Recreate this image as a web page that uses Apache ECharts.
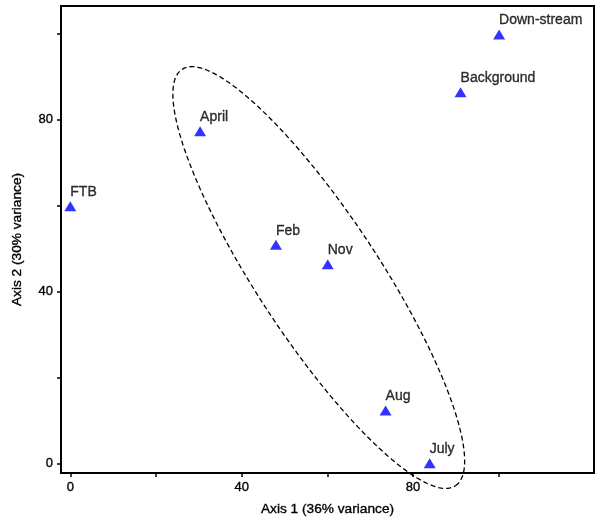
<!DOCTYPE html>
<html>
<head>
<meta charset="utf-8">
<script src="https://cdn.jsdelivr.net/npm/echarts@6/dist/echarts.min.js"></script>
<style>
html,body{margin:0;padding:0;background:#fff;}
#chart{width:600px;height:522px;}
</style>
</head>
<body>
<div id="chart"></div>
<script>
// Data
var siteNames = ["FTB", "April", "Feb", "Nov", "Aug", "July", "Background", "Down-stream"];
var axis1Values = [0, 30.3, 48.0, 60.1, 73.6, 83.9, 91.1, 100.1];
var axis2Values = [59.8, 77.2, 50.8, 46.3, 12.3, 0, 86.3, 99.7];
var tickValues = [0, 20, 40, 60, 80, 100];
var tickLabelValues = [0, 40, 80];
// Ellipse annotation (data units): center, semi-axes, rotation (deg)
var ellipseCenter = [58.0, 43.2];
var ellipseAxes = [58.0, 14.2];
var ellipseAngle = -56.6;

var points = siteNames.map(function (n, i) {
  return { name: n, value: [axis1Values[i], axis2Values[i]] };
});

var ellipsePts = [];
var th = ellipseAngle * Math.PI / 180;
for (var k = 0; k <= 200; k++) {
  var t = k / 200 * 2 * Math.PI;
  var ex = ellipseAxes[0] * Math.cos(t), ey = ellipseAxes[1] * Math.sin(t);
  ellipsePts.push([
    ellipseCenter[0] + ex * Math.cos(th) - ey * Math.sin(th),
    ellipseCenter[1] + ex * Math.sin(th) + ey * Math.cos(th)
  ]);
}

var font = "Liberation Sans, Arial, sans-serif";
var txt = { fontFamily: font, color: '#000', textBorderColor: '#000', textBorderWidth: 0.35 };
var chart = echarts.init(document.getElementById('chart'), null, { renderer: 'canvas' });
chart.setOption({
  animation: false,
  backgroundColor: '#fff',
  grid: { left: 61, top: 6, right: 6, bottom: 49, show: true, borderColor: '#000', borderWidth: 2, containLabel: false },
  xAxis: {
    type: 'value', min: -2.17, max: 122.25,
    name: 'Axis 1 (36% variance)', nameLocation: 'middle', nameGap: 29,
    nameTextStyle: Object.assign({ fontSize: 13.7 }, txt),
    splitLine: { show: false },
    axisLine: { show: true, onZero: false, lineStyle: { color: '#000', width: 2 } },
    axisTick: { show: true, inside: false, length: 4, customValues: tickValues, lineStyle: { color: '#000', width: 1.5 } },
    axisLabel: Object.assign({ customValues: tickLabelValues, fontSize: 13, margin: 8 }, txt)
  },
  yAxis: {
    type: 'value', min: -2.26, max: 106.35,
    name: 'Axis 2 (30% variance)', nameLocation: 'middle', nameGap: 37, nameRotate: 90,
    nameTextStyle: Object.assign({ fontSize: 13.7 }, txt),
    splitLine: { show: false },
    axisLine: { show: true, onZero: false, lineStyle: { color: '#000', width: 2 } },
    axisTick: { show: true, inside: false, length: 4, customValues: tickValues, lineStyle: { color: '#000', width: 1.5 } },
    axisLabel: Object.assign({ customValues: tickLabelValues, fontSize: 13, margin: 8 }, txt)
  },
  series: [
    {
      type: 'line', data: ellipsePts, symbol: 'none', smooth: false, silent: true, clip: false,
      lineStyle: { color: '#000', width: 1.3, type: [5, 3] }, z: 1
    },
    {
      type: 'scatter', data: points, symbol: 'triangle', symbolSize: [12, 10],
      itemStyle: { color: '#0000FF' }, z: 3,
      label: Object.assign({
        show: true, formatter: '{b}', position: [6, -2], align: 'left', verticalAlign: 'bottom',
        fontSize: 14
      }, txt)
    }
  ]
});
</script>
</body>
</html>
